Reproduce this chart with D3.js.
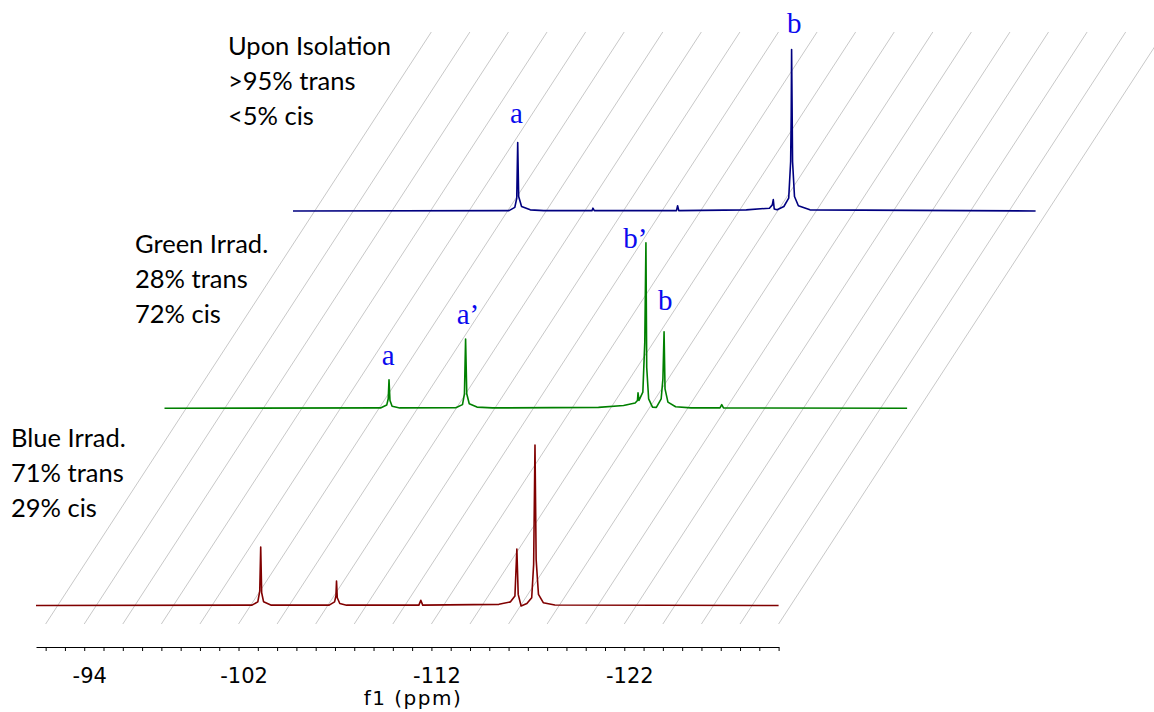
<!DOCTYPE html>
<html>
<head>
<meta charset="utf-8">
<script src="https://cdn.jsdelivr.net/npm/d3@7"></script>
<style>
  body { margin: 0; background: #fff; }
</style>
</head>
<body>
<div id="chart"></div>
<script>
// stacked 19F NMR spectra
const width = 1154,
      height = 712;

// axis ticks (ppm)
const tickValues = d3.range(-92, -131, -1);
const tickLabels = [-94, -102, -112, -122];
const gridValues = d3.range(-92, -131, -2);

// [ppm, intensity], bottom spectrum first
const blueIrrad = [
  [-91.5, 0.3], [-102.7, 0.5], [-103.0, 2.5], [-103.1, 9], [-103.15, 35.5], [-103.2, 8], [-103.3, 2.5], [-103.7, 0.5],
  [-106.7, 0.5], [-106.98, 2.5], [-107.05, 6], [-107.08, 15], [-107.12, 5], [-107.25, 1.5], [-107.6, 0.5],
  [-111.35, 0.5], [-111.45, 3.4], [-111.55, 0.5],
  [-115.5, 1], [-116.1, 2.5], [-116.33, 6], [-116.43, 34.3], [-116.5, 7], [-116.65, 0], [-116.95, 1.5],
  [-117.2, 5], [-117.3, 25], [-117.37, 97], [-117.43, 28], [-117.55, 7], [-117.8, 2], [-118.4, 0.6], [-130, 0.3]
];
const greenIrrad = [
  [-91.5, 0.3], [-102.7, 0.5], [-103.02, 2.2], [-103.1, 6], [-103.14, 17.5], [-103.19, 5], [-103.3, 1.5], [-103.7, 0.5],
  [-106.6, 0.6], [-106.95, 2.5], [-107.05, 9], [-107.11, 42], [-107.17, 9], [-107.3, 3], [-107.7, 1], [-108.5, 0.5],
  [-114.0, 0.8], [-115.3, 2], [-115.9, 3.5], [-116.02, 5], [-116.05, 9.6], [-116.1, 5], [-116.3, 10], [-116.4, 40],
  [-116.46, 100], [-116.5, 25], [-116.6, 6], [-116.8, 1], [-117.0, 0.8], [-117.25, 6], [-117.34, 18], [-117.4, 46.4],
  [-117.45, 12], [-117.6, 4], [-118.0, 1.2], [-118.8, 0.5],
  [-120.3, 0.5], [-120.39, 2.5], [-120.48, 0.5], [-130, 0.3]
];
const uponIsolation = [
  [-91.5, 0.3], [-102.7, 0.5], [-103.0, 2.5], [-103.1, 8], [-103.15, 41.6], [-103.2, 9], [-103.35, 3], [-103.8, 1], [-104.5, 0.5],
  [-107.0, 0.5], [-107.05, 2], [-107.12, 0.5],
  [-111.38, 0.5], [-111.44, 3.5], [-111.5, 0.5],
  [-115.0, 1], [-116.2, 2], [-116.35, 4], [-116.4, 7.2], [-116.45, 1.5], [-116.6, 1], [-116.95, 3], [-117.2, 8],
  [-117.3, 30], [-117.33, 58], [-117.35, 97.6], [-117.4, 30], [-117.5, 9], [-117.7, 3.5], [-118.3, 1], [-130, 0.3]
];

const spectra = [blueIrrad, greenIrrad, uponIsolation];
const colors = ["#800000", "#008000", "#000080"];

const captions = [
  ["Blue Irrad.", "71% trans", "29% cis"],
  ["Green Irrad.", "28% trans", "72% cis"],
  ["Upon Isolation", ">95% trans", "<5% cis"]
];

// peak letters: layer, ppm of left edge, height of baseline (intensity units)
const peakLabels = [
  { layer: 2, ppm: -117.11, h: 107.5, text: "b" },
  { layer: 2, ppm: -102.75, h: 53.5, text: "a" },
  { layer: 1, ppm: -102.76, h: 26.3, text: "a" },
  { layer: 1, ppm: -106.65, h: 51, text: "a\u2019" },
  { layer: 1, ppm: -115.29, h: 97, text: "b\u2019" },
  { layer: 1, ppm: -117.08, h: 59.5, text: "b" }
];

const svg = d3.select("#chart").append("svg")
    .attr("width", width)
    .attr("height", height)
    .style("background", "#fff");

const x = d3.scaleLinear().domain([-91.5, -130]).range([36, 778.6]);
const y = d3.scaleLinear().domain([0, 100]).range([0, -166]);
// depth of the stack: x shift and baseline y
const depthX = d3.scaleLinear().domain([0, 2]).range([0, 257]);
const depthY = d3.scaleLinear().domain([0, 2]).range([606, 211.5]);

const axisY = 647,
      gridBottom = 624,
      gridTop = 32,
      slope = depthX(1) / (depthY(0) - depthY(1));

// slanted grid lines
svg.append("g")
  .selectAll("line")
  .data(gridValues)
  .join("line")
    .attr("x1", d => x(d))
    .attr("y1", gridBottom)
    .attr("x2", d => x(d) + (gridBottom - gridTop) * slope)
    .attr("y2", gridTop)
    .attr("stroke", "#c8c8c8")
    .attr("stroke-width", 1);

// spectra
const line = d3.line()
    .x(d => x(d[0]))
    .y(d => y(d[1]));

svg.append("g")
  .selectAll("path")
  .data(spectra)
  .join("path")
    .attr("transform", (d, i) => `translate(${depthX(i)},${depthY(i)})`)
    .attr("d", line)
    .attr("fill", "none")
    .attr("stroke", (d, i) => colors[i])
    .attr("stroke-width", 1.6)
    .attr("stroke-linejoin", "round");

// peak letters
svg.append("g")
  .selectAll("text")
  .data(peakLabels)
  .join("text")
    .attr("x", d => x(d.ppm) + depthX(d.layer))
    .attr("y", d => depthY(d.layer) + y(d.h))
    .attr("fill", "#0a0aee")
    .style("font-family", "'Liberation Serif', 'Times New Roman', serif")
    .style("font-size", "29px")
    .text(d => d.text);

// captions
const capPos = [[11, 447], [135, 253], [228, 55]];
captions.forEach((lines, i) => {
  svg.append("text")
      .attr("x", capPos[i][0])
      .attr("y", capPos[i][1])
      .style("font-family", "Lato, 'Open Sans', sans-serif")
      .style("font-size", "25.5px")
      .attr("fill", "#000")
    .selectAll("tspan")
    .data(lines)
    .join("tspan")
      .attr("x", capPos[i][0])
      .attr("dy", (d, j) => j ? 35 : 0)
      .text(d => d);
});

// ppm axis
const labelSet = new Set(tickLabels);
const axis = svg.append("g")
    .attr("transform", `translate(0,${axisY})`)
    .call(d3.axisBottom(x)
      .tickValues(tickValues)
      .tickSize(4)
      .tickSizeOuter(0)
      .tickFormat(d => labelSet.has(d) ? String(d) : ""));

axis.select(".domain").attr("stroke", "#000").attr("stroke-width", 1);
axis.selectAll(".tick line").attr("stroke", "#000");
axis.selectAll(".tick text")
    .attr("y", 36)
    .attr("dy", 0)
    .attr("dx", 5)
    .attr("fill", "#000")
    .style("font-family", "'DejaVu Sans', sans-serif")
    .style("font-size", "21px");

svg.append("text")
    .attr("x", 413)
    .attr("y", 705)
    .attr("text-anchor", "middle")
    .style("font-family", "'DejaVu Sans', sans-serif")
    .style("font-size", "20px")
    .style("letter-spacing", "1.5px")
    .text("f1 (ppm)");
</script>
</body>
</html>
